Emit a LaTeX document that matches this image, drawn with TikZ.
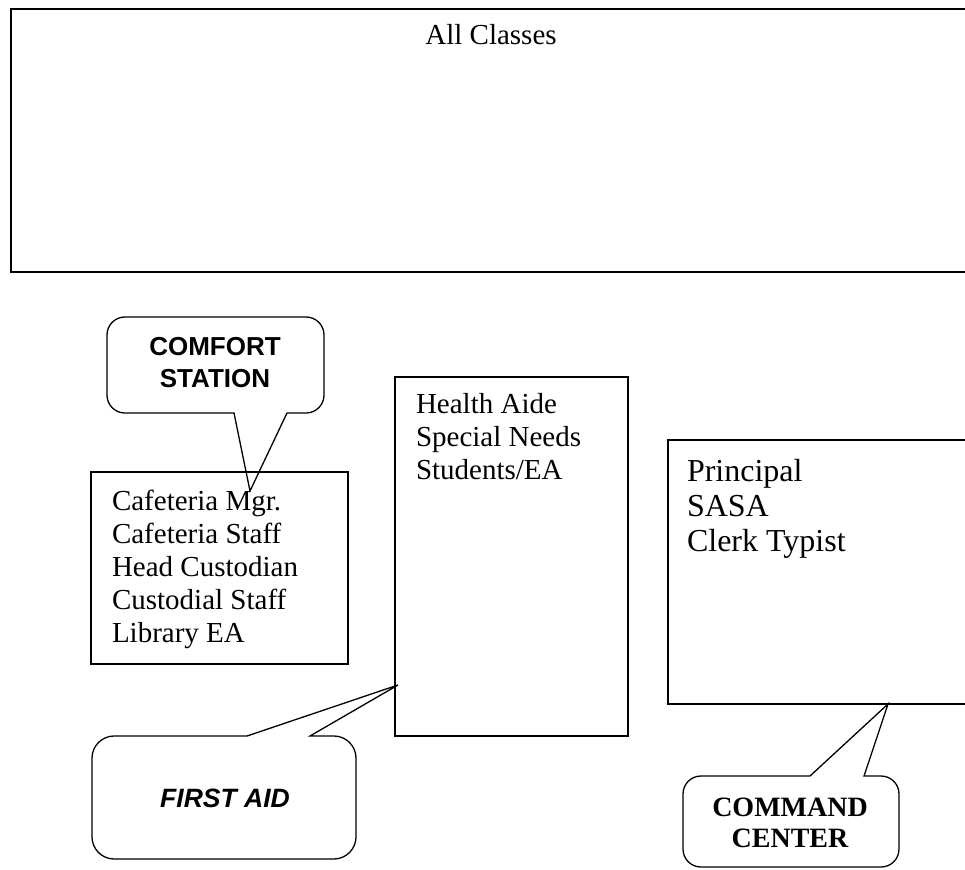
\documentclass[tikz,border=0pt]{standalone}
\usepackage{fontspec}
\setmainfont{Liberation Serif}
\newfontfamily\arialf{Liberation Sans}
\begin{document}
\begin{tikzpicture}[x=1pt,y=-1pt,
  box/.style={draw=black, line width=1.2pt},
  bubble/.style={draw=black, line width=1.3pt, line join=miter},
  lines/.style={anchor=base west, inner sep=0pt, outer sep=0pt},
  ctext/.style={anchor=base, inner sep=0pt, outer sep=0pt},
  bodyfont/.style={font=\fontsize{29}{33}\selectfont},
  bigfont/.style={font=\fontsize{32}{35}\selectfont},
  sansbold/.style={font=\arialf\bfseries\fontsize{26}{32}\selectfont},
  sansboldit/.style={font=\arialf\bfseries\itshape\fontsize{26.5}{31}\selectfont},
  serifbold/.style={font=\bfseries\fontsize{28}{31}\selectfont}
]
\useasboundingbox (0,0) rectangle (965,869);
\clip (0,0) rectangle (965,869);
\fill[white] (0,0) rectangle (965,869);

% top box
\draw[line width=2pt] (11,9) rectangle (980,272);
\node[ctext, bodyfont] (allclasses) at (491,45) {All Classes};

% cafeteria box
\draw[box] (91,472) rectangle (348,664);
\coordinate (caftop) at (250,491);
\node[lines, bodyfont] (caftext) at (112,510) {\begin{tabular}[t]{@{}l@{}}Cafeteria Mgr.\\Cafeteria Staff\\Head Custodian\\Custodial Staff\\Library EA\end{tabular}};

% health box
\draw[box] (395,377) rectangle (628,736);
\coordinate (healthleft) at (398,685);
\node[lines, bodyfont] (healthtext) at (416,413) {\begin{tabular}[t]{@{}l@{}}Health Aide\\Special Needs\\Students/EA\end{tabular}};

% principal box
\draw[box] (668,440) rectangle (990,704);
\coordinate (princbottom) at (888,704);
\node[lines, bigfont] (princtext) at (687,481) {\begin{tabular}[t]{@{}l@{}}Principal\\SASA\\Clerk Typist\end{tabular}};

% comfort station callout
\draw[bubble] (caftop) -- (287,413) -- (306,413) .. controls (316,413) and (324,405) .. (324,395)
  -- (324,335) .. controls (324,325) and (316,317) .. (306,317)
  -- (125,317) .. controls (115,317) and (107,325) .. (107,335)
  -- (107,395) .. controls (107,405) and (115,413) .. (125,413)
  -- (234,413) -- cycle;
\node[ctext, sansbold] (comfort) at (215,355) {\begin{tabular}[t]{@{}c@{}}COMFORT\\STATION\end{tabular}};

% first aid callout
\draw[bubble] (healthleft) -- (310,736) -- (334,736) .. controls (346,736) and (356,746) .. (356,758)
  -- (356,837) .. controls (356,849) and (346,859) .. (334,859)
  -- (114,859) .. controls (102,859) and (92,849) .. (92,837)
  -- (92,758) .. controls (92,746) and (102,736) .. (114,736)
  -- (247,736) -- cycle;
\node[ctext, sansboldit] (firstaid) at (225,807) {FIRST AID};

% command center callout
\draw[bubble] (princbottom) -- (864,776) -- (881,776) .. controls (891,776) and (899,784) .. (899,794)
  -- (899,849) .. controls (899,859) and (891,867) .. (881,867)
  -- (701,867) .. controls (691,867) and (683,859) .. (683,849)
  -- (683,794) .. controls (683,784) and (691,776) .. (701,776)
  -- (810,776) -- cycle;
\node[ctext, serifbold] (command) at (790,816) {\begin{tabular}[t]{@{}c@{}}COMMAND\\CENTER\end{tabular}};
\end{tikzpicture}
\end{document}
